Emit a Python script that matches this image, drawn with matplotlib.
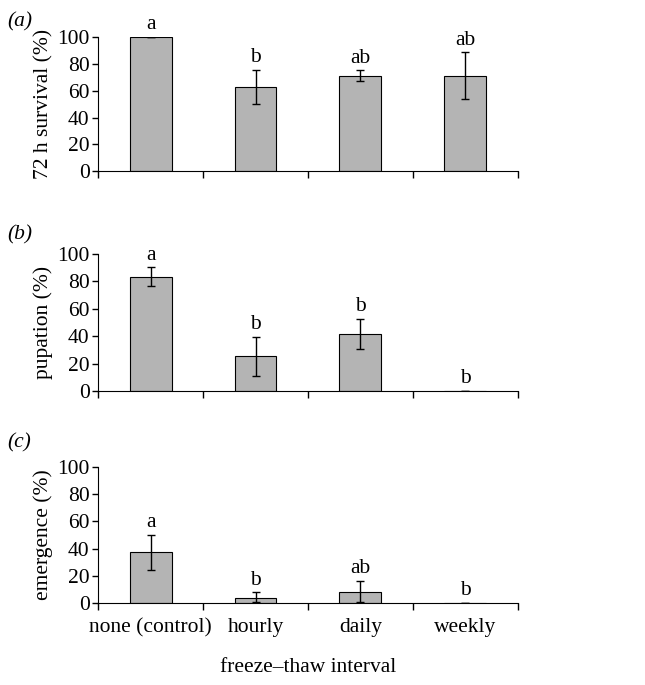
import matplotlib.pyplot as plt

plt.rcParams['font.family'] = ['Liberation Serif', 'DejaVu Serif']

categories = ['none (control)', 'hourly', 'daily', 'weekly']

# valeurs moyennes et barres d'erreur (bas, haut)
survie = [100, 62.4, 71.1, 71.1]
survie_bas = [100, 50.0, 67.2, 53.7]
survie_haut = [100, 75.4, 75.1, 88.6]
survie_lettres = ['a', 'b', 'ab', 'ab']

pupaison = [83.3, 25.2, 41.7, 0]
pupaison_bas = [76.5, 10.7, 30.8, 0]
pupaison_haut = [90.3, 39.6, 52.4, 0]
pupaison_lettres = ['a', 'b', 'b', 'b']

emergence = [37.5, 3.9, 8.1, 0]
emergence_bas = [24.5, 0.5, 0.5, 0]
emergence_haut = [50.0, 7.8, 16.4, 0]
emergence_lettres = ['a', 'b', 'ab', 'b']

panneaux = [
    ('(a)', '72 h survival (%)', survie, survie_bas, survie_haut, survie_lettres, 0.750, 0.196, 0.968),
    ('(b)', 'pupation (%)', pupaison, pupaison_bas, pupaison_haut, pupaison_lettres, 0.4292, 0.200, 0.657),
    ('(c)', 'emergence (%)', emergence, emergence_bas, emergence_haut, emergence_lettres, 0.1197, 0.1985, 0.353),
]

fig = plt.figure(figsize=(6.45, 6.85), dpi=100)
fs = 15.5

for i, (lab, ylab, vals, bas, haut, lettres, bottom, height, ylab_pos) in enumerate(panneaux):
    ax = fig.add_axes([0.152, bottom, 0.651, height])
    x = range(len(categories))
    ax.bar(x, vals, width=0.4, color='#b4b4b4', edgecolor='black', linewidth=0.8, zorder=2)
    yerr = [[v - b for v, b in zip(vals, bas)], [h - v for v, h in zip(vals, haut)]]
    ax.errorbar(x, vals, yerr=yerr, fmt='none', ecolor='black', elinewidth=1,
                capsize=3.2, capthick=1, zorder=3)
    for xi, h, l in zip(x, haut, lettres):
        ax.annotate(l, (xi, h), xytext=(0, 2), textcoords='offset points',
                    ha='center', va='bottom', fontsize=fs)
    ax.set_xlim(-0.5, 3.5)
    ax.set_ylim(0, 100)
    ax.set_yticks([0, 20, 40, 60, 80, 100])
    ax.set_xticks([-0.5, 0.5, 1.5, 2.5, 3.5])
    ax.set_xticklabels([])
    ax.spines['top'].set_visible(False)
    ax.spines['right'].set_visible(False)
    ax.tick_params(axis='y', labelsize=fs, length=4, width=1, pad=2)
    ax.tick_params(axis='x', length=5, width=1)
    ax.set_ylabel(ylab, fontsize=fs, labelpad=3)
    fig.text(0.012, ylab_pos, lab, fontsize=fs, style='italic', va='center')
    if i == 2:
        for xi, c in zip(x, categories):
            ax.text(xi, -0.11, c, transform=ax.get_xaxis_transform(), ha='center',
                    va='top', fontsize=fs)

fig.text(0.478, 0.026, 'freeze–thaw interval', fontsize=fs, ha='center', va='center')

fig.savefig('out.png', dpi=100)
